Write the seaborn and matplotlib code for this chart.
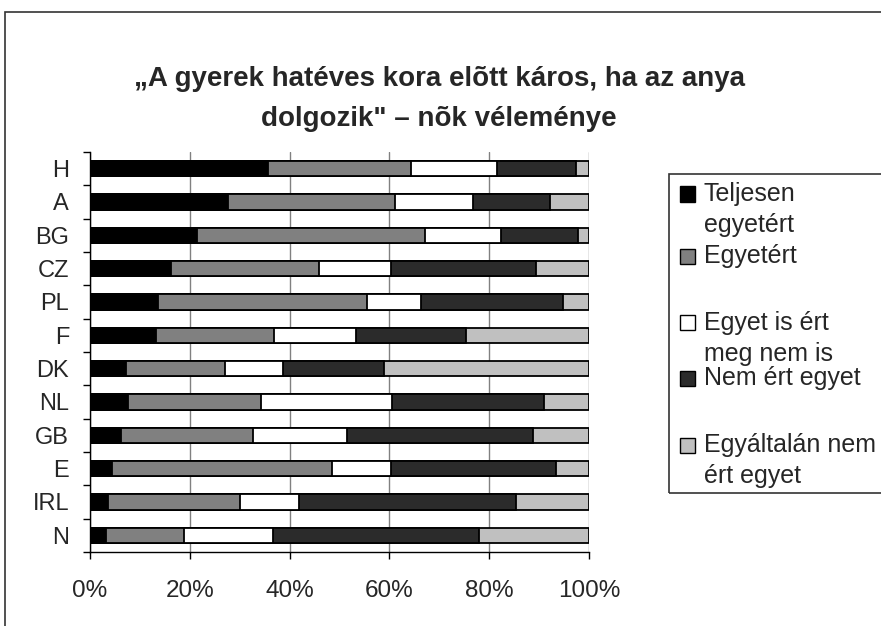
import matplotlib
matplotlib.use("Agg")
import matplotlib.pyplot as plt
from matplotlib.patches import Rectangle
import numpy as np
import pandas as pd
import seaborn as sns

countries = ["H", "A", "BG", "CZ", "PL", "F", "DK", "NL", "GB", "E", "IRL", "N"]
teljesen = [35.7, 27.7, 21.4, 16.2, 13.6, 13.3, 7.3, 7.7, 6.2, 4.4, 3.6, 3.3]
egyetert = [28.7, 33.4, 45.8, 29.7, 42.0, 23.5, 19.8, 26.6, 26.5, 44.1, 26.4, 15.5]
semleges = [17.2, 15.7, 15.1, 14.4, 10.8, 16.5, 11.6, 26.3, 18.8, 11.9, 11.9, 17.9]
nem_ert = [15.7, 15.3, 15.4, 29.0, 28.4, 22.0, 20.2, 30.3, 37.2, 32.9, 43.4, 41.3]
egyaltalan = [2.7, 7.9, 2.3, 10.7, 5.2, 24.7, 41.1, 9.1, 11.3, 6.7, 14.7, 22.0]

series = ["Teljesen egyetért", "Egyetért", "Egyet is ért meg nem is",
          "Nem ért egyet", "Egyáltalán nem ért egyet"]
legend_lines = [["Teljesen", "egyetért"], ["Egyetért"], ["Egyet is ért", "meg nem is"],
                ["Nem ért egyet"], ["Egyáltalán nem", "ért egyet"]]
colors = ["#000000", "#808080", "#ffffff", "#2b2b2b", "#c0c0c0"]
x_ticks = [0, 20, 40, 60, 80, 100]

df = pd.DataFrame({"country": countries, series[0]: teljesen, series[1]: egyetert,
                   series[2]: semleges, series[3]: nem_ert, series[4]: egyaltalan})
cum = df[series].cumsum(axis=1)

sns.set_style("white")
plt.rcParams["font.family"] = ["Liberation Sans", "DejaVu Sans"]

W, H = 881, 626
fig = plt.figure(figsize=(W / 100, H / 100), dpi=100)
ax = fig.add_axes([90 / W, 1 - 552 / H, (589 - 90) / W, (552 - 152) / H])

# stacked bars: draw the cumulative totals from the outermost layer inwards
for s, c in reversed(list(zip(series, colors))):
    sns.barplot(x=cum[s], y=df["country"], orient="h", color=c, saturation=1,
                edgecolor="black", linewidth=1.3, width=0.46, errorbar=None, ax=ax)

ax.set_xlim(0, 100)
ax.set_ylim(11.5, -0.5)
ax.set_xticks(x_ticks)
ax.set_xticklabels([f"{t}%" for t in x_ticks])
ax.set_yticks(np.arange(-0.5, 12, 1), minor=True)
ax.set_xlabel("")
ax.set_ylabel("")
ax.xaxis.grid(True, color="#808080", linewidth=1)
ax.set_axisbelow(True)
for sp in ["top", "right"]:
    ax.spines[sp].set_visible(False)
for sp in ["left", "bottom"]:
    ax.spines[sp].set_color("black")
    ax.spines[sp].set_linewidth(1)
ax.tick_params(axis="x", which="major", length=5, width=1, color="black",
               direction="out", labelsize=17.5, pad=15, bottom=True)
ax.tick_params(axis="y", which="major", length=0, labelsize=17, pad=15)
ax.tick_params(axis="y", which="minor", length=5, width=1, color="black",
               direction="out", left=True)

fig.suptitle("\u201eA gyerek hatéves kora elõtt káros, ha az anya\ndolgozik\" \u2013 nõk véleménye",
             x=439 / W, y=1 - 99 / H, va="center", fontsize=20, fontweight="bold",
             linespacing=1.68)

# outer chart border and legend frame
fig.add_artist(Rectangle((5 / W, -0.05), 1.1, 1 - 12 / H + 0.05, transform=fig.transFigure,
                         fill=False, edgecolor="#333333", linewidth=1.2))
fig.add_artist(Rectangle((669 / W, 1 - 493 / H), 0.5, (493 - 174) / H, transform=fig.transFigure,
                         fill=False, edgecolor="#333333", linewidth=1.2))

entry_y = [194, 256, 323, 378, 445]
for lines, c, yy in zip(legend_lines, colors, entry_y):
    fig.add_artist(Rectangle((680 / W, 1 - (yy + 7.5) / H), 15 / W, 15 / H,
                             transform=fig.transFigure, facecolor=c,
                             edgecolor="black", linewidth=1))
    for k, line in enumerate(lines):
        fig.text(704 / W, 1 - (yy + 31 * k) / H, line, fontsize=18, va="center", ha="left")

fig.savefig("out.png", dpi=100)
